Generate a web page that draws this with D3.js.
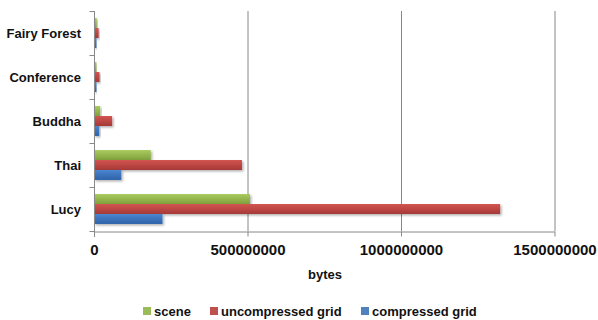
<!DOCTYPE html>
<html><head><meta charset="utf-8">
<script src="https://cdn.jsdelivr.net/npm/d3@7"></script>
<style>body{margin:0;background:#fff}svg{display:block}text{font-family:"Liberation Sans",Arial,sans-serif;font-weight:bold;fill:#111}</style>
</head><body>
<svg id="c" width="598" height="320"></svg>
<script>
const categories = ["Fairy Forest","Conference","Buddha","Thai","Lucy"];
const seriesNames = ["scene","uncompressed grid","compressed grid"];
const scene = [9e6, 8e6, 20e6, 185e6, 508e6];
const uncompressed = [15e6, 18e6, 59e6, 482e6, 1323e6];
const compressed = [8e6, 8e6, 17e6, 89e6, 223e6];
const tickValues = [0, 500000000, 1000000000, 1500000000];
const colors = ["#9BBB59","#C0504D","#4F81BD"];
const light = ["#A9CB5E","#D25450","#4A86D0"];
const dark = ["#7FA03C","#A63A37","#2F62A8"];

const svg = d3.select("#c");
const m = {l:94, t:11};
const x = d3.scaleLinear().domain([0,1500000000]).range([m.l, 554.5]);
const y = d3.scaleBand().domain(categories).range([m.t, 231]).paddingInner(0.32).paddingOuter(0.16);
const ys = d3.scaleBand().domain(seriesNames).range([0, y.bandwidth()]);

const defs = svg.append("defs");
colors.forEach((c,i)=>{
  const g = defs.append("linearGradient").attr("id","g"+i).attr("x1",0).attr("y1",0).attr("x2",0).attr("y2",1);
  g.append("stop").attr("offset","0%").attr("stop-color",light[i]);
  g.append("stop").attr("offset","100%").attr("stop-color",dark[i]);
});
const f = defs.append("filter").attr("id","sh").attr("x","-5%").attr("y","-20%").attr("width","120%").attr("height","160%");
f.append("feDropShadow").attr("dx",1.5).attr("dy",1.5).attr("stdDeviation",1.2).attr("flood-color","#000").attr("flood-opacity",0.3);

svg.append("g").selectAll("line").data(tickValues.slice(1)).join("line")
  .attr("x1",d=>x(d)+0.5).attr("x2",d=>x(d)+0.5).attr("y1",m.t).attr("y2",231)
  .attr("stroke","#888").attr("stroke-width",1);

const data = [scene, uncompressed, compressed];
const gBars = svg.append("g");
categories.forEach((cat,ci)=>{
  seriesNames.forEach((s,si)=>{
    gBars.append("rect")
      .attr("x", x(0)).attr("y", y(cat)+ys(s))
      .attr("width", x(data[si][ci]) - x(0)).attr("height", ys.bandwidth())
      .attr("fill","url(#g"+si+")").attr("filter","url(#sh)");
  });
});

const xa = svg.append("g").attr("transform","translate(0,231.5)")
  .call(d3.axisBottom(x).tickValues(tickValues).tickFormat(d3.format("d")).tickSize(5).tickSizeOuter(0));
xa.select(".domain").attr("stroke","#888");
xa.selectAll(".tick line").attr("stroke","#888");
xa.selectAll(".tick text").attr("font-size",15).attr("dy","1.0em").attr("fill","#111");

const ya = svg.append("g").attr("transform","translate(94.5,0)");
ya.append("line").attr("x1",0).attr("x2",0).attr("y1",m.t).attr("y2",237).attr("stroke","#888");
const bounds = categories.map(c=>y(c)-y.step()*y.paddingInner()/2).concat([231]);
ya.selectAll("line.t").data(bounds).join("line").attr("class","t")
  .attr("x1",-5).attr("x2",0).attr("y1",d=>Math.round(d)+0.5).attr("y2",d=>Math.round(d)+0.5).attr("stroke","#888");
ya.selectAll("text").data(categories).join("text")
  .attr("x",-13.5).attr("y",c=>y(c)+y.bandwidth()/2).attr("dy","0.35em")
  .attr("text-anchor","end").attr("font-size",13).text(d=>d);

svg.append("text").attr("x",325).attr("y",279).attr("text-anchor","middle").attr("font-size",13).text("bytes");

const lx = [143, 210, 361];
const lg = svg.append("g");
seriesNames.forEach((s,i)=>{
  lg.append("rect").attr("x",lx[i]).attr("y",307).attr("width",8).attr("height",8).attr("fill",colors[i]);
  lg.append("text").attr("x",lx[i]+11).attr("y",315.5).attr("font-size",13).text(s);
});
</script>
</body></html>
